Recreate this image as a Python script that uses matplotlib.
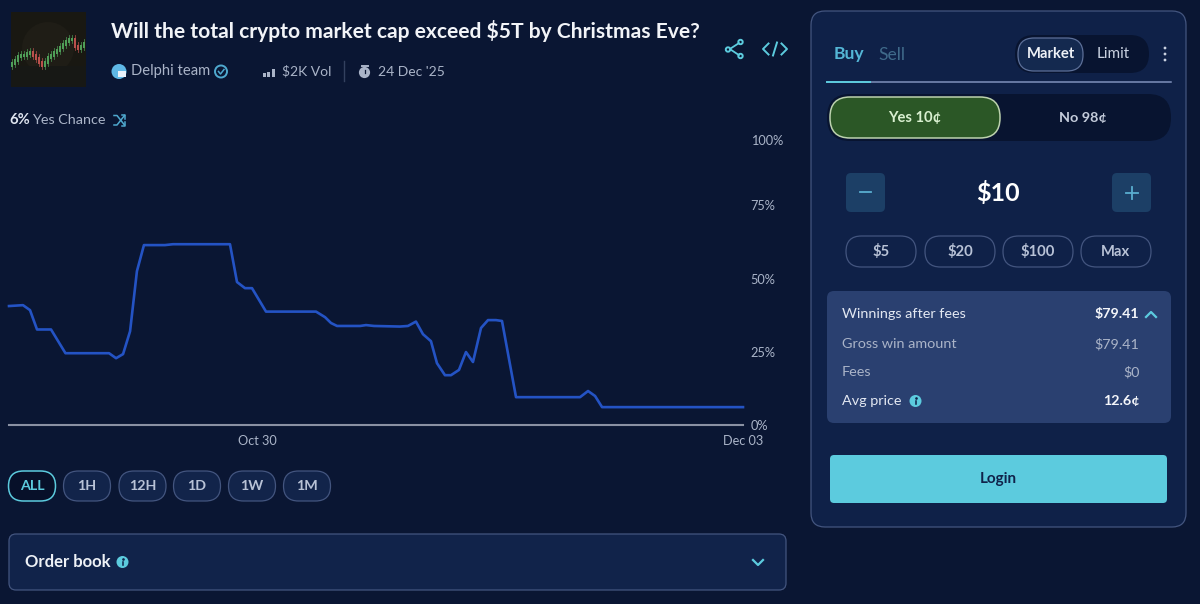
import numpy as np
import pandas as pd
import matplotlib
matplotlib.use("Agg")
import matplotlib.pyplot as plt
import matplotlib.dates as mdates
import matplotlib.transforms as mtrans
from matplotlib.patches import FancyBboxPatch, Circle, Rectangle

plt.rcParams['font.family'] = ['Lato', 'DejaVu Sans']

# ---- chart data ----
days_from_oct30 = [-17.35, -16.37, -15.88, -15.39, -14.41, -13.40, -10.35, -9.86, -9.37, -8.88,
                   -8.40, -7.91, -6.44, -5.88, -1.89, -1.40, -0.84, -0.35, 0.63, 4.13,
                   4.76, 5.18, 5.60, 7.21, 7.63, 8.19, 10.0, 10.56, 11.12, 11.61,
                   12.17, 12.59, 13.15, 13.57, 14.13, 14.62, 15.11, 15.67, 16.16, 16.72,
                   17.14, 18.12, 22.6, 23.16, 23.65, 24.14, 34.0]
yes_chance = [40.6, 40.9, 39.2, 32.6, 32.6, 24.5, 24.5, 22.8, 24.2, 32.0,
              52.5, 61.4, 61.4, 61.7, 61.7, 48.8, 46.7, 46.7, 38.7, 38.7,
              36.8, 34.8, 33.8, 33.8, 34.1, 33.8, 33.6, 33.8, 35.3, 31.0,
              28.6, 21.1, 17.0, 17.0, 18.8, 24.9, 21.5, 33.1, 35.8, 35.8,
              35.5, 9.5, 9.5, 11.6, 9.9, 6.1, 6.1]
y_ticks = [0, 25, 50, 75, 100]
y_tick_labels = ['0%', '25%', '50%', '75%', '100%']
x_ticks = ['2025-10-30', '2025-12-03']
x_tick_labels = ['Oct 30', 'Dec 03']
range_labels = ['ALL', '1H', '12H', '1D', '1W', '1M']
amount_labels = ['$5', '$20', '$100', 'Max']
thumb_close = [42, 45, 49, 50, 50, 52, 53, 50, 47, 43, 40, 43, 48, 50, 53, 55, 58, 61, 64, 66, 66, 59, 57, 59, 62]

BG = '#0a1633'
PANEL = '#0f2148'
BORDER = '#43557f'
CYAN = '#5ccbde'
TXT = '#dfe5f0'
MUTED = '#aab4c8'
W, H = 1200, 604

fig = plt.figure(figsize=(W/100, H/100), dpi=100, facecolor=BG)
ui = fig.add_axes([0, 0, 1, 1])
ui.set_xlim(0, W); ui.set_ylim(H, 0); ui.axis('off')

def box(x0, y0, x1, y1, r, fc, ec='none', lw=1.0, z=1):
    p = FancyBboxPatch((x0+r, y0+r), x1-x0-2*r, y1-y0-2*r, boxstyle=f'round,pad={r},rounding_size={r}',
                       fc=fc, ec=ec, lw=lw, zorder=z)
    ui.add_patch(p)

def t(x, y, s, size=11, c=TXT, w='normal', ha='left', z=5):
    ui.text(x, y+1, s, fontsize=size, color=c, fontweight=w, ha=ha, va='center', zorder=z)

def info(x, y, r=6):
    ui.add_patch(Circle((x, y), r, fc=CYAN, ec='none', zorder=5))
    ui.plot([x, x], [y-0.5, y+3], color=PANEL, lw=1.1, zorder=6)
    ui.plot([x], [y-2.6], '.', ms=1.8, color=PANEL, zorder=6)

# ---- header ----
ui.add_patch(Rectangle((11, 12), 75, 75, fc='#191812', ec='none', zorder=1))
ui.add_patch(Circle((48, 48), 26, fc='#1f1d16', ec='none', zorder=1))
ui.add_patch(Rectangle((11, 66), 75, 21, fc='#171815', ec='none', zorder=1))
for i, v in enumerate(thumb_close):
    cx = 12 + i*3
    base = 105 - v
    prev = 105 - thumb_close[i-1] if i else base + 2
    col = '#4f9e58' if base <= prev else '#b9504c'
    ui.plot([cx, cx], [min(base, prev)-4, max(base, prev)+4], color=col, lw=0.6, alpha=0.8, zorder=2)
    ui.add_patch(Rectangle((cx-1.1, min(base, prev)-1.5), 2.2, abs(base-prev)+3, fc=col, ec='none', zorder=3))

t(111, 29.5, 'Will the total crypto market cap exceed $5T by Christmas Eve?', 15.15, '#f2f4f8', 'bold')
ui.add_patch(Circle((119, 71.5), 7.5, fc='#5fb8e6', ec='none', zorder=3))
ui.add_patch(Rectangle((118, 71), 8, 6, fc='#eaf2fa', ec='none', zorder=4))
t(131, 70.5, 'Delphi team', 10.6, MUTED)
ui.add_patch(Circle((221, 71.5), 6, fc='none', ec='#4fa9cf', lw=1.4, zorder=4))
ui.plot([218.5, 220.5, 224], [71.5, 74, 69.5], color='#4fa9cf', lw=1.1, zorder=4)
for bx, bh in zip([264, 268.5, 273], [4, 5.5, 8.5]):
    ui.add_patch(Rectangle((bx-1.5, 77-bh), 3, bh, fc=MUTED, ec='none', zorder=4))
t(282, 70.5, '$2K Vol', 10.0, MUTED)
ui.plot([344, 344], [61, 81], color='#33415f', lw=1, zorder=2)
ui.add_patch(Circle((364.5, 72.5), 5.6, fc=MUTED, ec='none', zorder=4))
ui.plot([364.5, 364.5], [70, 73], color=BG, lw=0.9, zorder=5)
ui.plot([361.5, 367.5], [65.5, 65.5], color=MUTED, lw=1.4, zorder=4)
t(378, 70.5, "24 Dec '25", 10.0, MUTED)

# share / embed icons
for cx, cy in [(740.5, 42), (728, 49.5), (740.5, 56)]:
    ui.add_patch(Circle((cx, cy), 2.2, fc='none', ec=CYAN, lw=1.4, zorder=4))
ui.plot([738.8, 729.8, 738.8], [43.2, 49, 55], color=CYAN, lw=1.3, zorder=4)
ui.plot([768.5, 763, 768.5], [43.5, 49, 54.5], color=CYAN, lw=1.4, zorder=4)
ui.plot([781.5, 787, 781.5], [43.5, 49, 54.5], color=CYAN, lw=1.4, zorder=4)
ui.plot([773, 777], [55.5, 42.5], color=CYAN, lw=1.4, zorder=4)

t(9, 119, '6%', 10.6, TXT, 'bold')
t(32, 119, 'Yes Chance', 10.4, MUTED)
sh = '#4fa9cf'
ui.plot([114, 117, 124.5], [125, 125, 115.5], color=sh, lw=1.1, zorder=4)
ui.plot([114, 117, 124.5], [115.5, 115.5, 125], color=sh, lw=1.1, zorder=4)
ui.plot([121.5, 125, 125], [115, 115, 118.5], color=sh, lw=1.1, zorder=4)
ui.plot([121.5, 125, 125], [125.5, 125.5, 122], color=sh, lw=1.1, zorder=4)

# ---- chart ----
ax_left, ax_right, ax_top, ax_bottom = 9, 743, 132, 425
ax = fig.add_axes([ax_left/W, 1-ax_bottom/H, (ax_right-ax_left)/W, (ax_bottom-ax_top)/H])
ax.patch.set_alpha(0)
base_date = pd.Timestamp('2025-10-30')
dates = base_date + pd.to_timedelta(days_from_oct30, unit='D')
ax.plot(dates, yes_chance, color='#2453c4', lw=1.9, solid_joinstyle='round', clip_on=False)
ax.set_xlim(dates[0], dates[-1])
ax.set_ylim(0, 100)
for s in ['top', 'left', 'right']:
    ax.spines[s].set_visible(False)
ax.spines['bottom'].set_color('#8a91a3'); ax.spines['bottom'].set_linewidth(1.5)
ax.yaxis.tick_right()
ax.set_yticks(y_ticks, y_tick_labels)
ax.set_xticks([mdates.date2num(pd.Timestamp(d)) for d in x_ticks], x_tick_labels)
ax.tick_params(axis='both', length=0, labelsize=9.2, labelcolor=MUTED)
ax.tick_params(axis='y', pad=5.5)
ax.tick_params(axis='x', pad=7)
ylabs = ax.get_yticklabels()
ylabs[-1].set_transform(ylabs[-1].get_transform() + mtrans.ScaledTranslation(0, -8/100, fig.dpi_scale_trans))

# range buttons
rx = [32, 87, 142.5, 197, 252, 307]
for i, (cx, s) in enumerate(zip(rx, range_labels)):
    if i == 0:
        box(cx-23.5, 471, cx+23.5, 501, 15, '#071029', CYAN, 1.1)
        t(cx, 485.5, s, 10.3, CYAN, 'bold', 'center')
    else:
        box(cx-23.5, 471, cx+23.5, 501, 15, '#12244a', BORDER, 0.9)
        t(cx, 485.5, s, 10.3, '#b8c2d6', 'bold', 'center')

# order book
box(9, 534, 786, 590, 7, '#11234a', BORDER, 0.9)
t(25, 561, 'Order book', 12, '#eef1f6', 'bold')
info(122.5, 562)
ui.plot([753, 758, 763], [560, 565, 560], color=CYAN, lw=1.6, zorder=5)

# ---- right panel ----
box(811, 11, 1186, 527, 14, PANEL, BORDER, 0.9)
t(834, 53.5, 'Buy', 12.6, '#54b6d6', 'bold')
t(878, 53.5, 'Sell', 12.6, '#3f6a8a')
ui.plot([827, 1171], [81.5, 81.5], color='#7f90bb', lw=1.1, zorder=3)
ui.plot([827, 870], [81.5, 81.5], color=CYAN, lw=1.4, zorder=4)
box(1015, 35, 1149, 73, 19, '#081430')
box(1018, 38, 1083, 71, 16, '#14294f', '#5c6f98', 0.9, 2)
t(1050.5, 53, 'Market', 10.6, '#eef1f6', 'bold', 'center')
t(1113, 53, 'Limit', 11, '#c9d1e0', 'normal', 'center')
for yy in [48, 54, 60]:
    ui.add_patch(Circle((1165, yy), 1.4, fc='#c9d1e0', ec='none', zorder=5))

box(827, 94, 1171, 141, 23, '#081430')
box(830, 97, 1000, 138, 20, '#2b5726', '#bcd2ae', 1.1, 2)
t(915, 117, 'Yes 10¢', 10.6, '#d9f0d0', 'bold', 'center')
t(1082.5, 117, 'No 98¢', 10.4, '#c4ccdb', 'bold', 'center')

box(846, 173, 885, 212, 5, '#1c3f66')
box(1112, 173, 1151, 212, 5, '#1c3f66')
ui.plot([860, 871], [192, 192], color='#5aaed0', lw=1.3, zorder=5)
ui.plot([1126, 1138], [192.5, 192.5], color='#5aaed0', lw=1.3, zorder=5)
ui.plot([1132, 1132], [186.5, 198.5], color='#5aaed0', lw=1.3, zorder=5)
t(998, 192, '$10', 18, '#ffffff', 'bold', 'center')

for x0, x1, s in zip([846, 925, 1003, 1081], [916, 995, 1073, 1151], amount_labels):
    box(x0, 236, x1, 267, 15.5, PANEL, BORDER, 0.9)
    t((x0+x1)/2, 250.5, s, 10.6, '#b8c2d6', 'bold', 'center')

box(827, 291, 1171, 423, 7, '#2a4070')
t(842, 313, 'Winnings after fees', 10.4, '#e3e8f2')
t(1139.5, 313, '$79.41', 10.3, '#f4f6fa', 'bold', 'right')
ui.plot([1146, 1151, 1156], [317, 312, 317], color=CYAN, lw=1.6, zorder=5)
t(842, 343, 'Gross win amount', 10.4, '#aab4c8')
t(1139.5, 343, '$79.41', 10.3, '#aab4c8', 'normal', 'right')
t(842, 371.5, 'Fees', 10.4, '#aab4c8')
t(1139.5, 371.5, '$0', 10.3, '#aab4c8', 'normal', 'right')
t(842, 400, 'Avg price', 10.4, '#e3e8f2')
info(915.5, 401)
t(1139.5, 400, '12.6¢', 10.3, '#f4f6fa', 'bold', 'right')

box(830, 455, 1167, 503, 4, CYAN)
t(998, 478, 'Login', 11, '#10234a', 'bold', 'center')

fig.savefig('out.png', dpi=100, facecolor=BG)
